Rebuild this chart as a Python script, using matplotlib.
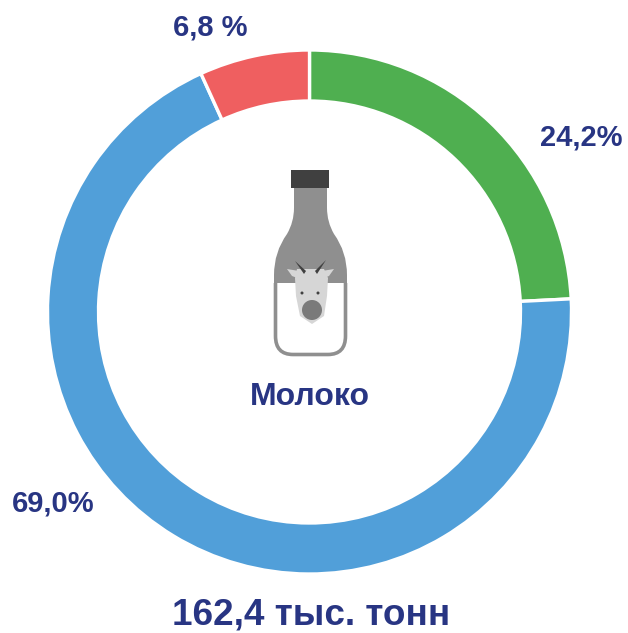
import matplotlib
matplotlib.use("Agg")
import matplotlib.pyplot as plt
from matplotlib.patches import Polygon, Ellipse, Rectangle, PathPatch
from matplotlib.path import Path

values = [24.2, 69.0, 6.8]
colors = ['#4FAF50', '#519FD9', '#EF5F60']
labels = ['24,2%', '69,0%', '6,8 %']
label_xy = [(581, 137), (53, 503), (210, 28)]
center_label = 'Молоко'
total_label = '162,4 тыс. тонн'
TEXT = '#283583'

W, H = 628, 633
plt.rcParams['font.family'] = ['Liberation Sans', 'DejaVu Sans']
fig = plt.figure(figsize=(W/100, H/100), dpi=100)
ax = fig.add_axes([0, 0, 1, 1])
ax.set_xlim(0, W); ax.set_ylim(H, 0); ax.axis('off')

cx, cy, R = 309.5, 312, 262
pax = fig.add_axes([(cx-R)/W, 1-(cy+R)/H, 2*R/W, 2*R/H])
pax.pie(values, colors=colors, startangle=90, counterclock=False, radius=1,
        wedgeprops=dict(width=51/262, edgecolor='white', linewidth=2.4))
pax.set_xlim(-1, 1); pax.set_ylim(-1, 1)

for t, (x, y) in zip(labels, label_xy):
    ax.text(x, y, t, color=TEXT, fontsize=21, fontweight='bold', ha='center', va='center')
ax.text(309.5, 397, center_label, color=TEXT, fontsize=23, fontweight='bold', ha='center', va='center')
ax.text(311, 615.5, total_label, color=TEXT, fontsize=26.6, fontweight='bold', ha='center', va='center')

# bottle icon
M, C, L = Path.MOVETO, Path.CURVE3, Path.LINETO
G = '#8F8F8F'
verts = [(294,187),(327,187),(327,208),(327,222),(334,234),(347,252),(347,275),
         (347,283),(347,283),(274,283),(274,283),(274,275),(274,252),(287,234),(294,222),(294,208),(294,187)]
codes = [M,L,L,C,C,C,C,L,L,L,L,L,C,C,C,C,L]
ax.add_patch(PathPatch(Path(verts, codes), fc=G, ec='none', zorder=3))
outline = [(275.5,283),(275.5,336),(275.5,354.5),(293,354.5),(328,354.5),(345.5,354.5),(345.5,336),(345.5,283)]
ax.add_patch(PathPatch(Path(outline, [M,L,C,C,L,C,C,L]), fc='white', ec=G, lw=2.6, zorder=3))
ax.add_patch(Rectangle((291, 170), 38, 17.5, color='#404040', lw=0, zorder=4))
head = [(297,269),(324,269),(328,278),(327,296),(324,316),(312,324),(300,316),(296,296),(295,278)]
ax.add_patch(Polygon(head, fc='#D6D6D6', ec='none', zorder=5))
ax.add_patch(Polygon([(287,269),(299,271),(300,279),(292,276)], fc='#D6D6D6', ec='none', zorder=5))
ax.add_patch(Polygon([(334,269),(322,271),(321,279),(329,276)], fc='#D6D6D6', ec='none', zorder=5))
ax.add_patch(Polygon([(295,261),(306,271),(304,274)], fc='#404040', ec='none', zorder=6))
ax.add_patch(Polygon([(326,260),(315,271),(317,274)], fc='#404040', ec='none', zorder=6))
ax.add_patch(Ellipse((312, 310), 20, 20, fc='#7A7A7A', ec='none', zorder=6))
ax.add_patch(Ellipse((302, 293), 3, 3, fc='#404040', ec='none', zorder=6))
ax.add_patch(Ellipse((318, 293), 3, 3, fc='#404040', ec='none', zorder=6))

fig.savefig('out.png', dpi=100)
